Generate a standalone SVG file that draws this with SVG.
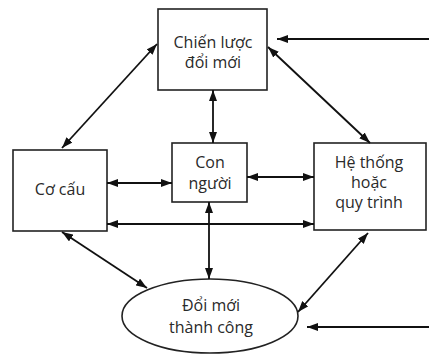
<svg xmlns="http://www.w3.org/2000/svg" width="429" height="354" viewBox="0 0 429 354">
<style>
.box{fill:#fff;stroke:#222;stroke-width:1.6}
.t{font-family:"Open Sans","Noto Sans",sans-serif;font-size:16px;fill:#2a2a2a;text-anchor:middle}
.c{stroke:#111;stroke-width:1.8;fill:none}
</style>
<defs>
<marker id="a" viewBox="0 0 11 8" refX="11" refY="4" markerWidth="11" markerHeight="8" markerUnits="userSpaceOnUse" orient="auto-start-reverse">
<path d="M0,0 L11,4 L0,8 Z" fill="#111"/>
</marker>
</defs>
<rect width="429" height="354" fill="#fff"/>
<g id="n1">
<rect class="box" x="158" y="9" width="109" height="81"/>
<text class="t" x="213" y="48">Chiến lược</text>
<text class="t" x="213" y="68">đổi mới</text>
</g>
<g id="n2">
<rect class="box" x="13" y="150" width="94" height="81"/>
<text class="t" x="60" y="195">Cơ cấu</text>
</g>
<g id="n3">
<rect class="box" x="172" y="143" width="75" height="59"/>
<text class="t" x="210" y="168">Con</text>
<text class="t" x="210" y="189">người</text>
</g>
<g id="n4">
<rect class="box" x="314" y="143" width="112" height="87"/>
<text class="t" x="369" y="168">Hệ thống</text>
<text class="t" x="369" y="188">hoặc</text>
<text class="t" x="369" y="208">quy trình</text>
</g>
<g id="n5">
<ellipse class="box" cx="210" cy="316" rx="88" ry="37"/>
<text class="t" x="211" y="311">Đổi mới</text>
<text class="t" x="211" y="333">thành công</text>
</g>
<g id="connectors">
<line class="c" x1="429" y1="39" x2="277" y2="39" marker-end="url(#a)"/>
<line class="c" x1="429" y1="327" x2="307" y2="327" marker-end="url(#a)"/>
<line class="c" x1="62" y1="148" x2="157" y2="44" marker-start="url(#a)" marker-end="url(#a)"/>
<line class="c" x1="268" y1="47" x2="370" y2="143" marker-start="url(#a)" marker-end="url(#a)"/>
<line class="c" x1="62" y1="232" x2="147" y2="288" marker-start="url(#a)" marker-end="url(#a)"/>
<line class="c" x1="368" y1="233" x2="298" y2="312" marker-start="url(#a)" marker-end="url(#a)"/>
<line class="c" x1="213" y1="90" x2="213" y2="143" marker-start="url(#a)" marker-end="url(#a)"/>
<line class="c" x1="107" y1="183" x2="172" y2="183" marker-start="url(#a)" marker-end="url(#a)"/>
<line class="c" x1="247" y1="177" x2="314" y2="177" marker-start="url(#a)" marker-end="url(#a)"/>
<line class="c" x1="107" y1="224" x2="314" y2="224" marker-start="url(#a)" marker-end="url(#a)"/>
<line class="c" x1="209" y1="202" x2="209" y2="279" marker-start="url(#a)" marker-end="url(#a)"/>
</g>
</svg>
